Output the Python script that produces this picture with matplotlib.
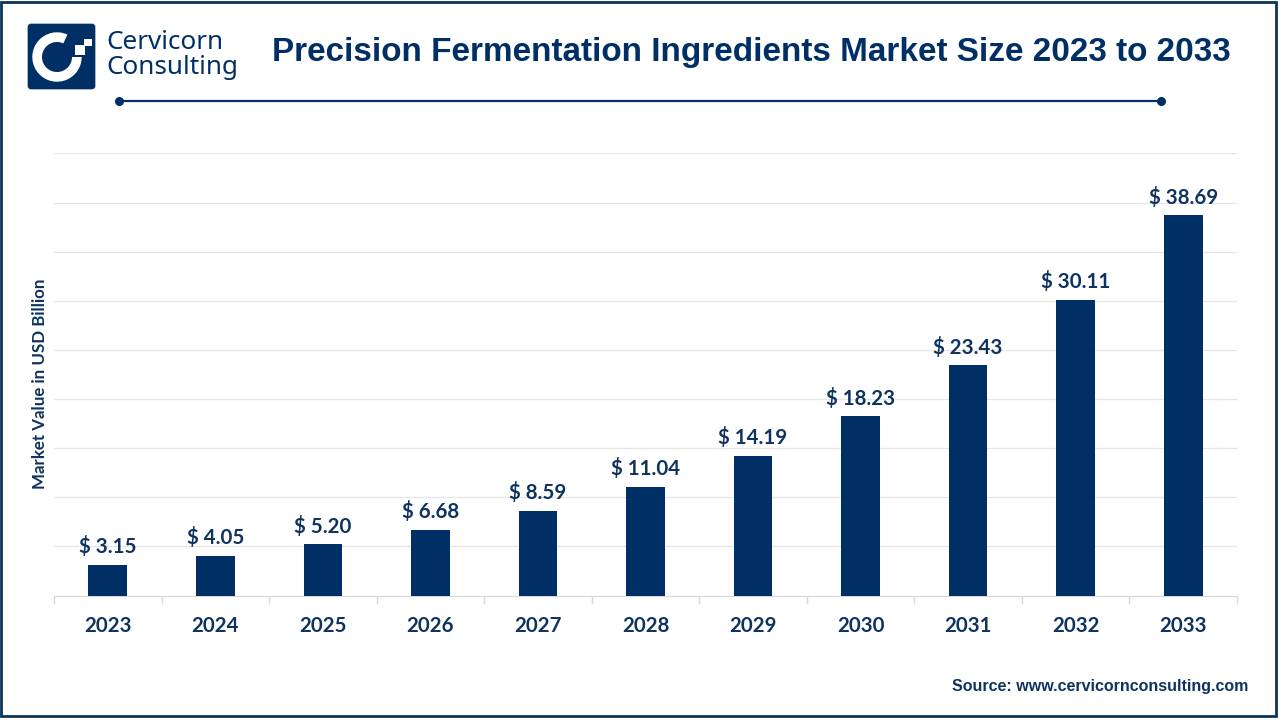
import matplotlib
matplotlib.use("Agg")
import matplotlib.pyplot as plt
from matplotlib.patches import FancyBboxPatch, Wedge, Rectangle

years = ["2023", "2024", "2025", "2026", "2027", "2028", "2029", "2030", "2031", "2032", "2033"]
values = [3.15, 4.05, 5.20, 6.68, 8.59, 11.04, 14.19, 18.23, 23.43, 30.11, 38.69]
title = "Precision Fermentation Ingredients Market Size 2023 to 2033"
ylabel = "Market Value in USD Billion"
source = "Source: www.cervicornconsulting.com"

NAVY = "#002F66"
TEXT = "#0F3360"
BORDER = "#0B3558"
GRID = "#E6E6E6"
W, H = 1280, 720

fig = plt.figure(figsize=(W / 100, H / 100), dpi=100, facecolor="white")

# overlay in pixel coordinates for frame, logo and header
bg = fig.add_axes([0, 0, 1, 1], zorder=0)
bg.set_xlim(0, W); bg.set_ylim(H, 0); bg.axis("off")
bg.add_patch(Rectangle((1, 1.5), 1275, 714.5, fill=False, ec=BORDER, lw=2))

# logo
bg.add_patch(FancyBboxPatch((28, 24), 67, 65, boxstyle="round,pad=0,rounding_size=3", fc=NAVY, ec=NAVY, lw=0.5))
bg.add_patch(Wedge((57, 57), 24.7, 0, 295, width=9.7, fc="white", ec="none"))
bg.add_patch(Rectangle((75, 45), 10, 10, fc="white", ec="none"))
bg.add_patch(Rectangle((84, 38.5), 7.5, 7, fc="white", ec="none"))
bg.text(106, 42.5, "Cervicorn", family="Noto Sans", fontsize=18.8, color=NAVY, va="center", ha="left", weight="medium")
bg.text(106, 67.5, "Consulting", family="Noto Sans", fontsize=18.8, color=NAVY, va="center", ha="left", weight="medium")

# title + rule
bg.text(751, 52, title, family="Liberation Sans", fontsize=23.97, weight="bold", color=NAVY, ha="center", va="center")
bg.plot([119, 1161], [100.5, 100.5], color=NAVY, lw=1.6, solid_capstyle="butt")
bg.plot([119, 1161], [100.5, 100.5], ls="none", marker="o", ms=5.5, color=NAVY)

# chart
left, right, top, bottom = 54, 1237, 153.5, 595.5
ax = fig.add_axes([left / W, 1 - bottom / H, (right - left) / W, (bottom - top) / H], zorder=1)
ax.patch.set_alpha(0)
xs = list(range(len(years)))
ax.bar(xs, values, width=0.36, color=NAVY, zorder=3)
ax.set_xlim(-0.5, len(years) - 0.5)
ax.set_ylim(0, 45)
ax.set_yticks(range(0, 46, 5))
ax.yaxis.grid(True, color=GRID, lw=1)
ax.set_axisbelow(True)
ax.tick_params(axis="y", length=0, labelleft=False)
ax.set_xticks([x - 0.5 for x in xs] + [len(years) - 0.5], labels=[])
ax.tick_params(axis="x", length=6, width=1, color="#D9D9D9")
for s in ("top", "left", "right"):
    ax.spines[s].set_visible(False)
ax.spines["bottom"].set_color("#D9D9D9")
for x, v, y in zip(xs, values, years):
    ax.annotate(f"$ {v:.2f}", (x, v), xytext=(0, 5.6), textcoords="offset points",
                ha="center", va="bottom", family="Lato", weight="bold", fontsize=14.8, color=TEXT)
    ax.annotate(y, (x, 0), xytext=(0, -30), textcoords="offset pixels",
                ha="center", va="center", family="Lato", weight="bold", fontsize=14.7, color=TEXT)

bg.text(40.5, 384, ylabel, rotation=90, family="Lato", weight="bold", fontsize=12.2, color=TEXT, ha="center", va="center")
bg.text(1248, 686, source, family="Liberation Sans", weight="bold", fontsize=11.55, color=TEXT, ha="right", va="center")

fig.savefig("out.png", dpi=100)
